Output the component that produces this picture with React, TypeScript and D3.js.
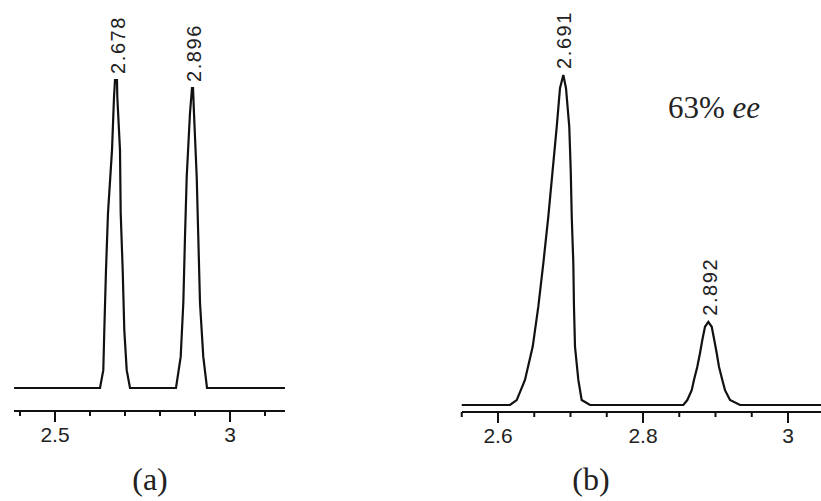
import React from "react";
import * as d3 from "d3";

// Trace (a): [chemical shift ppm, relative intensity]
const traceA: [number, number][] = [
  [2.383, 0], [2.6286, 0], [2.638, 5.8], [2.6409, 18.8], [2.6457, 38.3], [2.6514, 56.8],
  [2.6629, 77.3], [2.6686, 94.5], [2.6714, 100], [2.6771, 100], [2.678, 94.5], [2.6857, 77.3],
  [2.6877, 56.8], [2.6934, 38.3], [2.698, 18.8], [2.7049, 5.8], [2.7143, 0],
  [2.8457, 0], [2.8591, 10.1], [2.8666, 27.6], [2.8714, 49], [2.8763, 68.5], [2.8857, 89.3],
  [2.8914, 97.4], [2.8943, 97.4], [2.8971, 89.3], [2.9049, 68.5], [2.9094, 49], [2.9143, 27.6],
  [2.9237, 10.1], [2.9343, 0], [3.157, 0],
];

// Trace (b)
const traceB: [number, number][] = [
  [2.55, 0], [2.6166, 0], [2.6258, 1.5], [2.6372, 7.6], [2.6479, 17.7], [2.6556, 29.8],
  [2.6625, 42.9], [2.6694, 57.1], [2.6754, 71.2], [2.681, 84.3], [2.6855, 96], [2.6901, 100],
  [2.6938, 96], [2.6983, 84.3], [2.7003, 71.2], [2.7017, 57.1], [2.7039, 42.9], [2.7048, 29.8],
  [2.7062, 17.7], [2.7108, 7.6], [2.7154, 1.5], [2.7269, 0],
  [2.8556, 0], [2.8611, 1.5], [2.8672, 4.5], [2.8703, 7.6], [2.8749, 11.6], [2.8786, 15.7],
  [2.8818, 19.7], [2.8855, 23.7], [2.8901, 25.2], [2.8948, 23.7], [2.8983, 19.7], [2.9017, 15.7],
  [2.9048, 11.6], [2.9094, 7.6], [2.9131, 4.5], [2.92, 1.5], [2.9338, 0], [3.046, 0],
];

const peakLabelsA = [2.678, 2.896];
const peakLabelsB = [2.691, 2.892];

const majorTicksA = [2.5, 3];
const minorTicksA = [2.4, 2.6, 2.7, 2.8, 2.9, 3.1];
const majorTicksB = [2.6, 2.8, 3];
const minorTicksB = [2.55, 2.65, 2.7, 2.75, 2.85, 2.9, 2.95];

const panelLabels = ["(a)", "(b)"];
const eeText = "63%";
const eeItalic = "ee";

type PanelProps = {
  trace: [number, number][];
  labels: number[];
  major: number[];
  minor: number[];
  x: d3.ScaleLinear<number, number>;
  y: d3.ScaleLinear<number, number>;
  axisY: number;
  axisX0: number;
  axisX1: number;
};

function Panel({ trace, labels, major, minor, x, y, axisY, axisX0, axisX1 }: PanelProps) {
  const line = d3
    .line<[number, number]>()
    .x((d) => x(d[0]))
    .y((d) => y(d[1]));
  return (
    <g>
      <path d={line(trace) ?? ""} fill="none" stroke="#111" strokeWidth={2.2} strokeLinejoin="miter" />
      {labels.map((v) => {
        const near = trace.filter((d) => Math.abs(d[0] - v) < 0.02);
        const top = d3.max(near, (d) => d[1]) ?? 0;
        const px = x(v);
        const py = y(top) - 6;
        return (
          <text
            key={v}
            transform={`translate(${px},${py}) rotate(-90)`}
            dy="0.36em"
            fontFamily="'Liberation Sans', Arial, sans-serif"
            fontSize={20}
            letterSpacing={1.6}
            fill="#222"
          >
            {v.toFixed(3)}
          </text>
        );
      })}
      <line x1={axisX0} x2={axisX1} y1={axisY} y2={axisY} stroke="#111" strokeWidth={2.2} />
      {minor.map((t) => (
        <line key={"m" + t} x1={x(t)} x2={x(t)} y1={axisY} y2={axisY + 5} stroke="#111" strokeWidth={2} />
      ))}
      {major.map((t) => (
        <g key={"M" + t}>
          <line x1={x(t)} x2={x(t)} y1={axisY} y2={axisY + 11} stroke="#111" strokeWidth={2} />
          <text
            x={x(t)}
            y={axisY + 31}
            textAnchor="middle"
            fontFamily="'Liberation Sans', Arial, sans-serif"
            fontSize={21}
            fill="#222"
          >
            {String(t)}
          </text>
        </g>
      ))}
    </g>
  );
}

export default function App() {
  const xA = d3.scaleLinear().domain([2.5, 3]).range([55, 230]);
  const yA = d3.scaleLinear().domain([0, 100]).range([388, 80]);
  const xB = d3.scaleLinear().domain([2.6, 3]).range([498, 788]);
  const yB = d3.scaleLinear().domain([0, 100]).range([405, 75]);

  return (
    <svg
      width={821}
      height={501}
      style={{ position: "absolute", left: 0, top: 0, background: "#fff" }}
    >
      <rect width={821} height={501} fill="#fff" />
      <Panel trace={traceA} labels={peakLabelsA} major={majorTicksA} minor={minorTicksA} x={xA} y={yA} axisY={411} axisX0={14} axisX1={285} />
      <Panel trace={traceB} labels={peakLabelsB} major={majorTicksB} minor={minorTicksB} x={xB} y={yB} axisY={412} axisX0={462} axisX1={821} />
      <text x={668} y={118} fontFamily="'Liberation Serif', 'Times New Roman', serif" fontSize={31} fill="#222">
        {eeText} <tspan fontStyle="italic">{eeItalic}</tspan>
      </text>
      <text x={150} y={490} textAnchor="middle" fontFamily="'Liberation Serif', 'Times New Roman', serif" fontSize={32} fill="#222">
        {panelLabels[0]}
      </text>
      <text x={591} y={490} textAnchor="middle" fontFamily="'Liberation Serif', 'Times New Roman', serif" fontSize={32} fill="#222">
        {panelLabels[1]}
      </text>
    </svg>
  );
}
